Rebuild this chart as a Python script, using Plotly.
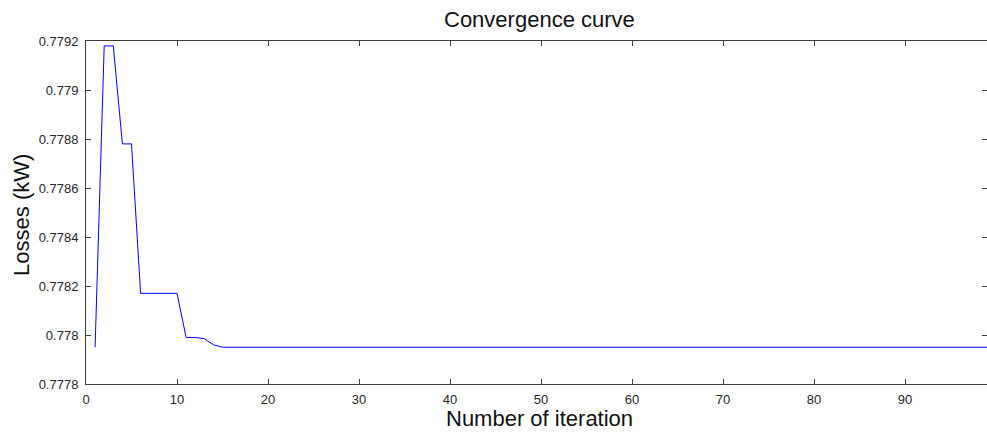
import plotly.graph_objects as go

iterations = list(range(1, 100))
losses = [
    0.77795, 0.77918, 0.77918, 0.77878, 0.77878, 0.77817, 0.77817, 0.77817, 0.77817, 0.77817,
    0.77799, 0.77799, 0.777985, 0.77796, 0.77795, 0.77795, 0.77795, 0.77795, 0.77795, 0.77795,
    0.77795, 0.77795, 0.77795, 0.77795, 0.77795, 0.77795, 0.77795, 0.77795, 0.77795, 0.77795,
    0.77795, 0.77795, 0.77795, 0.77795, 0.77795, 0.77795, 0.77795, 0.77795, 0.77795, 0.77795,
    0.77795, 0.77795, 0.77795, 0.77795, 0.77795, 0.77795, 0.77795, 0.77795, 0.77795, 0.77795,
    0.77795, 0.77795, 0.77795, 0.77795, 0.77795, 0.77795, 0.77795, 0.77795, 0.77795, 0.77795,
    0.77795, 0.77795, 0.77795, 0.77795, 0.77795, 0.77795, 0.77795, 0.77795, 0.77795, 0.77795,
    0.77795, 0.77795, 0.77795, 0.77795, 0.77795, 0.77795, 0.77795, 0.77795, 0.77795, 0.77795,
    0.77795, 0.77795, 0.77795, 0.77795, 0.77795, 0.77795, 0.77795, 0.77795, 0.77795, 0.77795,
    0.77795, 0.77795, 0.77795, 0.77795, 0.77795, 0.77795, 0.77795, 0.77795, 0.77795,
]
x_ticks = [0, 10, 20, 30, 40, 50, 60, 70, 80, 90]
y_ticks = [0.7778, 0.778, 0.7782, 0.7784, 0.7786, 0.7788, 0.779, 0.7792]
y_tick_labels = ["0.7778", "0.778", "0.7782", "0.7784", "0.7786", "0.7788", "0.779", "0.7792"]

fig = go.Figure()
fig.add_trace(go.Scatter(x=iterations, y=losses, mode="lines",
                         line=dict(color="#0000ff", width=1), showlegend=False))

font_family = "Liberation Sans, Arial, sans-serif"
axis_common = dict(showline=True, linecolor="#3c3c3c", linewidth=1, mirror="ticks",
                   ticks="inside", ticklen=5, tickcolor="#3c3c3c", showgrid=False,
                   zeroline=False, automargin=False,
                   tickfont=dict(family=font_family, size=13, color="#262626"))

fig.update_layout(
    width=987, height=432,
    margin=dict(l=86, r=0, t=41, b=48),
    paper_bgcolor="white", plot_bgcolor="white",
    xaxis=dict(range=[0, 99], tickvals=x_ticks, ticktext=[str(t) for t in x_ticks],
               ticklabelstandoff=3, **axis_common),
    yaxis=dict(range=[0.7778, 0.7792], tickvals=y_ticks, ticktext=y_tick_labels,
               ticklabelstandoff=4, **axis_common),
    annotations=[
        dict(text="Convergence curve", xref="paper", yref="paper", x=0.503, y=1.064,
             xanchor="center", yanchor="middle", showarrow=False,
             font=dict(family=font_family, size=22, color="#111111")),
        dict(text="Number of iteration", xref="paper", yref="paper", x=0.503, y=-0.102,
             xanchor="center", yanchor="middle", showarrow=False,
             font=dict(family=font_family, size=22, color="#111111")),
        dict(text="Losses (kW)", xref="paper", yref="paper", x=-0.071, y=0.493,
             xanchor="center", yanchor="middle", showarrow=False, textangle=-90,
             font=dict(family=font_family, size=22, color="#111111")),
    ],
)

fig.write_html("out.html", config={"displayModeBar": False},
               post_script="document.body.style.margin='0';document.body.style.overflow='hidden';")
